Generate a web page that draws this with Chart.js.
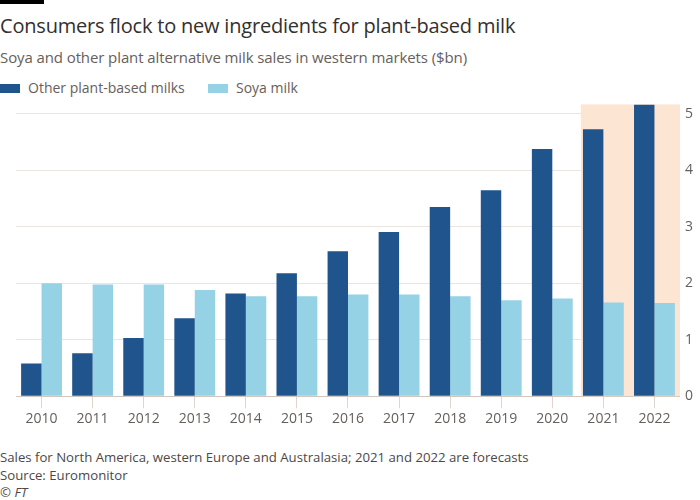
<!DOCTYPE html>
<html>
<head>
<meta charset="utf-8">
<script src="https://cdn.jsdelivr.net/npm/chart.js@4"></script>
<style>
  body { margin: 0; background: #fff; font-family: "Open Sans", "Noto Sans", sans-serif; }
  #wrap { position: relative; width: 700px; height: 500px; overflow: hidden; }
  #bar { position: absolute; left: 0; top: 0; width: 44px; height: 4px; background: #000; }
  #title { position: absolute; left: 0; top: 12px; font-size: 20px; color: #33302e; letter-spacing: -0.2px; }
  #sub { position: absolute; left: 0; top: 47px; font-size: 15px; color: #66605c; letter-spacing: -0.1px; }
  .leg { position: absolute; top: 78px; font-size: 14px; color: #66605c; white-space: nowrap; }
  .sw { display: inline-block; width: 20px; height: 9px; margin-right: 8px; vertical-align: 0px; }
  #foot { position: absolute; left: 0; top: 449px; font-size: 13.2px; color: #4d4845; line-height: 17.5px; }
  #chartBox { position: absolute; left: 0; top: 91px; width: 700px; height: 338px; }
</style>
</head>
<body>
<div id="wrap">
  <div id="bar"></div>
  <div id="title">Consumers flock to new ingredients for plant-based milk</div>
  <div id="sub">Soya and other plant alternative milk sales in western markets ($bn)</div>
  <div class="leg" style="left:0"><span class="sw" style="background:#1f558c"></span>Other plant-based milks</div>
  <div class="leg" style="left:208px"><span class="sw" style="background:#96d2e6"></span>Soya milk</div>
  <div id="chartBox"><canvas id="chart"></canvas></div>
  <div id="foot">Sales for North America, western Europe and Australasia; 2021 and 2022 are forecasts<br>Source: Euromonitor<br><i>© FT</i></div>
</div>
<script>
const years = ['2010','2011','2012','2013','2014','2015','2016','2017','2018','2019','2020','2021','2022'];
const otherMilks = [0.58, 0.76, 1.03, 1.38, 1.82, 2.18, 2.57, 2.91, 3.35, 3.65, 4.38, 4.73, 5.17];
const soyaMilk = [2.0, 1.98, 1.98, 1.88, 1.77, 1.77, 1.8, 1.8, 1.77, 1.7, 1.73, 1.66, 1.65];
const forecastYears = ['2021', '2022'];
const yTicks = [0, 1, 2, 3, 4, 5];

// peach band behind the forecast years
const forecastBand = {
    id: 'forecastBand',
    beforeDatasetsDraw(chart) {
        const { ctx, chartArea, scales } = chart;
        const x = scales.x;
        const first = years.indexOf(forecastYears[0]);
        const step = x.getPixelForValue(1) - x.getPixelForValue(0);
        const left = x.getPixelForValue(first) - step / 2 + 3;
        ctx.save();
        ctx.fillStyle = '#fde5d3';
        ctx.fillRect(left, chartArea.top, chartArea.right - left, chartArea.bottom - chartArea.top);
        ctx.restore();
    }
};

const chartEl = document.getElementById('chart');

new Chart(chartEl, {
    type: 'bar',
    data: {
        labels: years,
        datasets: [{
            label: 'Other plant-based milks',
            data: otherMilks,
            backgroundColor: '#1f558c'
        }, {
            label: 'Soya milk',
            data: soyaMilk,
            backgroundColor: '#96d2e6'
        }]
    },
    options: {
        responsive: true,
        maintainAspectRatio: false,
        animation: false,
        layout: { padding: { left: 16, right: 2, top: 8, bottom: 0 } },
        plugins: { legend: { display: false }, tooltip: { enabled: false } },
        datasets: { bar: { categoryPercentage: 0.8, barPercentage: 1 } },
        scales: {
            x: {
                grid: { offset: false, drawOnChartArea: false, tickLength: 12, color: '#ddd5ce' },
                border: { color: '#cec6bf' },
                ticks: { color: '#66605c', font: { family: 'Open Sans', size: 14 }, padding: 2, maxRotation: 0 }
            },
            y: {
                position: 'right',
                min: 0,
                max: 5.17,
                afterBuildTicks(axis) { axis.ticks = yTicks.map(v => ({ value: v })); },
                grid: { color: '#ebe5e0', drawTicks: false },
                border: { display: false },
                ticks: { color: '#66605c', font: { family: 'Open Sans', size: 14 }, padding: 5 }
            }
        }
    },
    plugins: [forecastBand]
});
</script>
</body>
</html>
